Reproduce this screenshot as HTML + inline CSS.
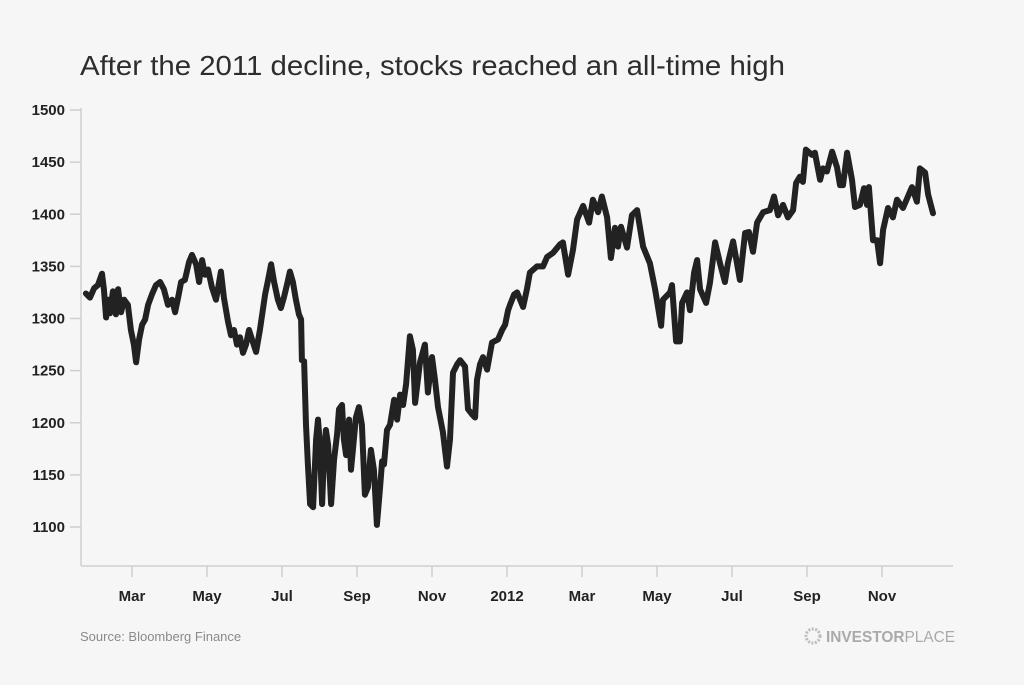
<!DOCTYPE html>
<html><head><meta charset="utf-8"><style>
body{margin:0;background:#f6f6f6;width:1024px;height:680px;overflow:hidden;font-family:"Liberation Sans",sans-serif}
</style></head><body>
<svg id="chart" width="1024" height="680" xmlns="http://www.w3.org/2000/svg">
<rect width="1024" height="680" fill="#f6f6f6"/>
<text x="80" y="75" font-size="28" fill="#2d2d2d" textLength="705" lengthAdjust="spacingAndGlyphs" font-family="Liberation Sans, sans-serif">After the 2011 decline, stocks reached an all-time high</text>
<text x="80" y="641" font-size="13" fill="#8a8a8a">Source: Bloomberg Finance</text>
<g>
<circle cx="813" cy="636" r="7" fill="none" stroke="#bbb" stroke-width="3" stroke-dasharray="2 1.5"/>
<text x="826" y="642" font-size="16" fill="#aaa" textLength="129" lengthAdjust="spacingAndGlyphs"><tspan font-weight="bold">INVESTOR</tspan>PLACE</text>
</g>
</svg>
<script>
const yTicks=[1100,1150,1200,1250,1300,1350,1400,1450,1500];
const xTickLabels=["Mar","May","Jul","Sep","Nov","2012","Mar","May","Jul","Sep","Nov"];
const xTickMonths=[2,4,6,8,10,12,14,16,18,20,22];
// months since Jan 2011
const dates=[0.77,0.88,0.99,1.09,1.20,1.25,1.31,1.36,1.41,1.49,1.57,1.63,1.71,1.79,1.89,1.97,2.05,2.11,2.19,2.27,2.35,2.43,2.53,2.64,2.75,2.85,2.96,3.07,3.15,3.23,3.31,3.41,3.52,3.60,3.71,3.79,3.87,3.95,4.03,4.13,4.24,4.29,4.37,4.45,4.56,4.64,4.72,4.80,4.88,4.96,5.04,5.12,5.20,5.31,5.41,5.55,5.63,5.71,5.79,5.89,5.97,6.05,6.13,6.21,6.29,6.37,6.45,6.51,6.53,6.59,6.64,6.69,6.75,6.83,6.91,6.96,7.01,7.07,7.12,7.17,7.23,7.31,7.39,7.47,7.52,7.60,7.65,7.71,7.79,7.84,7.89,7.97,8.05,8.13,8.21,8.29,8.37,8.45,8.53,8.61,8.67,8.72,8.80,8.88,8.99,9.07,9.15,9.23,9.31,9.41,9.49,9.55,9.68,9.81,9.89,10.00,10.08,10.16,10.29,10.40,10.48,10.56,10.67,10.75,10.88,10.96,11.07,11.15,11.20,11.28,11.36,11.47,11.60,11.76,11.87,11.95,12.03,12.08,12.19,12.27,12.43,12.53,12.61,12.80,12.96,13.07,13.23,13.41,13.49,13.63,13.76,13.87,14.03,14.19,14.29,14.43,14.53,14.67,14.77,14.88,14.96,15.04,15.20,15.33,15.47,15.63,15.81,15.95,16.11,16.16,16.35,16.40,16.51,16.61,16.67,16.80,16.88,16.99,17.07,17.15,17.31,17.41,17.55,17.68,17.81,17.89,18.03,18.21,18.35,18.45,18.56,18.67,18.83,19.01,19.12,19.23,19.36,19.49,19.63,19.71,19.81,19.89,19.97,20.13,20.21,20.35,20.43,20.53,20.67,20.80,20.88,20.96,21.07,21.20,21.28,21.41,21.52,21.60,21.65,21.76,21.87,21.95,22.03,22.16,22.29,22.40,22.56,22.80,22.93,23.01,23.15,23.23,23.36];
const prices=[1324,1320,1329,1332,1343,1328,1301,1318,1305,1326,1304,1328,1306,1318,1313,1289,1275,1258,1280,1294,1299,1313,1323,1332,1335,1328,1313,1318,1306,1320,1335,1337,1354,1361,1352,1335,1356,1342,1347,1330,1318,1328,1345,1320,1297,1284,1289,1275,1282,1267,1275,1289,1280,1268,1289,1323,1337,1352,1335,1318,1310,1320,1332,1345,1335,1318,1304,1299,1260,1259,1198,1160,1122,1119,1184,1203,1179,1122,1169,1193,1179,1122,1165,1189,1213,1217,1184,1169,1203,1155,1174,1205,1215,1198,1131,1138,1174,1155,1102,1136,1163,1160,1193,1198,1222,1203,1227,1217,1237,1283,1270,1219,1258,1275,1229,1263,1241,1215,1191,1158,1184,1248,1256,1260,1254,1213,1208,1205,1241,1256,1263,1251,1277,1280,1289,1294,1308,1313,1323,1325,1311,1328,1344,1350,1350,1359,1363,1371,1373,1342,1366,1395,1408,1392,1414,1402,1417,1397,1358,1387,1369,1388,1368,1399,1404,1369,1353,1328,1293,1318,1325,1332,1278,1278,1315,1325,1308,1344,1356,1328,1315,1334,1373,1353,1335,1353,1374,1337,1382,1383,1364,1392,1402,1404,1417,1399,1409,1397,1404,1430,1436,1431,1462,1457,1459,1433,1444,1441,1460,1445,1428,1428,1459,1433,1407,1409,1425,1409,1426,1375,1375,1353,1385,1406,1397,1414,1406,1426,1412,1444,1440,1419,1401];

const NS="http://www.w3.org/2000/svg";
const svg=document.getElementById('chart');
const L=81,B=566,R=953;
function y(v){return 527-(v-1100)*(417/400);}
function x(m){return 132+(m-2)*37.5;}
function mk(t,a,p){const e=document.createElementNS(NS,t);for(const k in a)e.setAttribute(k,a[k]);(p||svg).appendChild(e);return e;}
const ax=mk('g',{});


const yl=mk('line',{x1:L,y1:108,x2:L,y2:B,stroke:'#cfcfcf','stroke-width':1.5},ax);


const xl=mk('line',{x1:L,y1:B,x2:R,y2:B,stroke:'#cfcfcf','stroke-width':1.5},ax);


yTicks.forEach(v=>{
  const t=mk('line',{x1:70,y1:y(v),x2:L,y2:y(v),stroke:'#cfcfcf','stroke-width':1.5},ax);
  
  
  const l=mk('text',{x:65,y:y(v)+5,'text-anchor':'end','font-size':15,'font-weight':'bold',fill:'#222'},ax);
  
  
  l.textContent=v;
});
xTickMonths.forEach((m,i)=>{
  const t=mk('line',{x1:x(m),y1:B,x2:x(m),y2:B+11,stroke:'#cfcfcf','stroke-width':1.5},ax);
  
  
  const l=mk('text',{x:x(m),y:601,'text-anchor':'middle','font-size':15,'font-weight':'bold',fill:'#222'},ax);
  
  
  l.textContent=xTickLabels[i];
});
const d=dates.map((m,i)=>(i?'L':'M')+x(m).toFixed(1)+','+y(prices[i]).toFixed(1)).join('');
const p=mk('path',{d:d,fill:'none',stroke:'#222','stroke-width':6,'stroke-linejoin':'round','stroke-linecap':'round'});


</script>
</body></html>
